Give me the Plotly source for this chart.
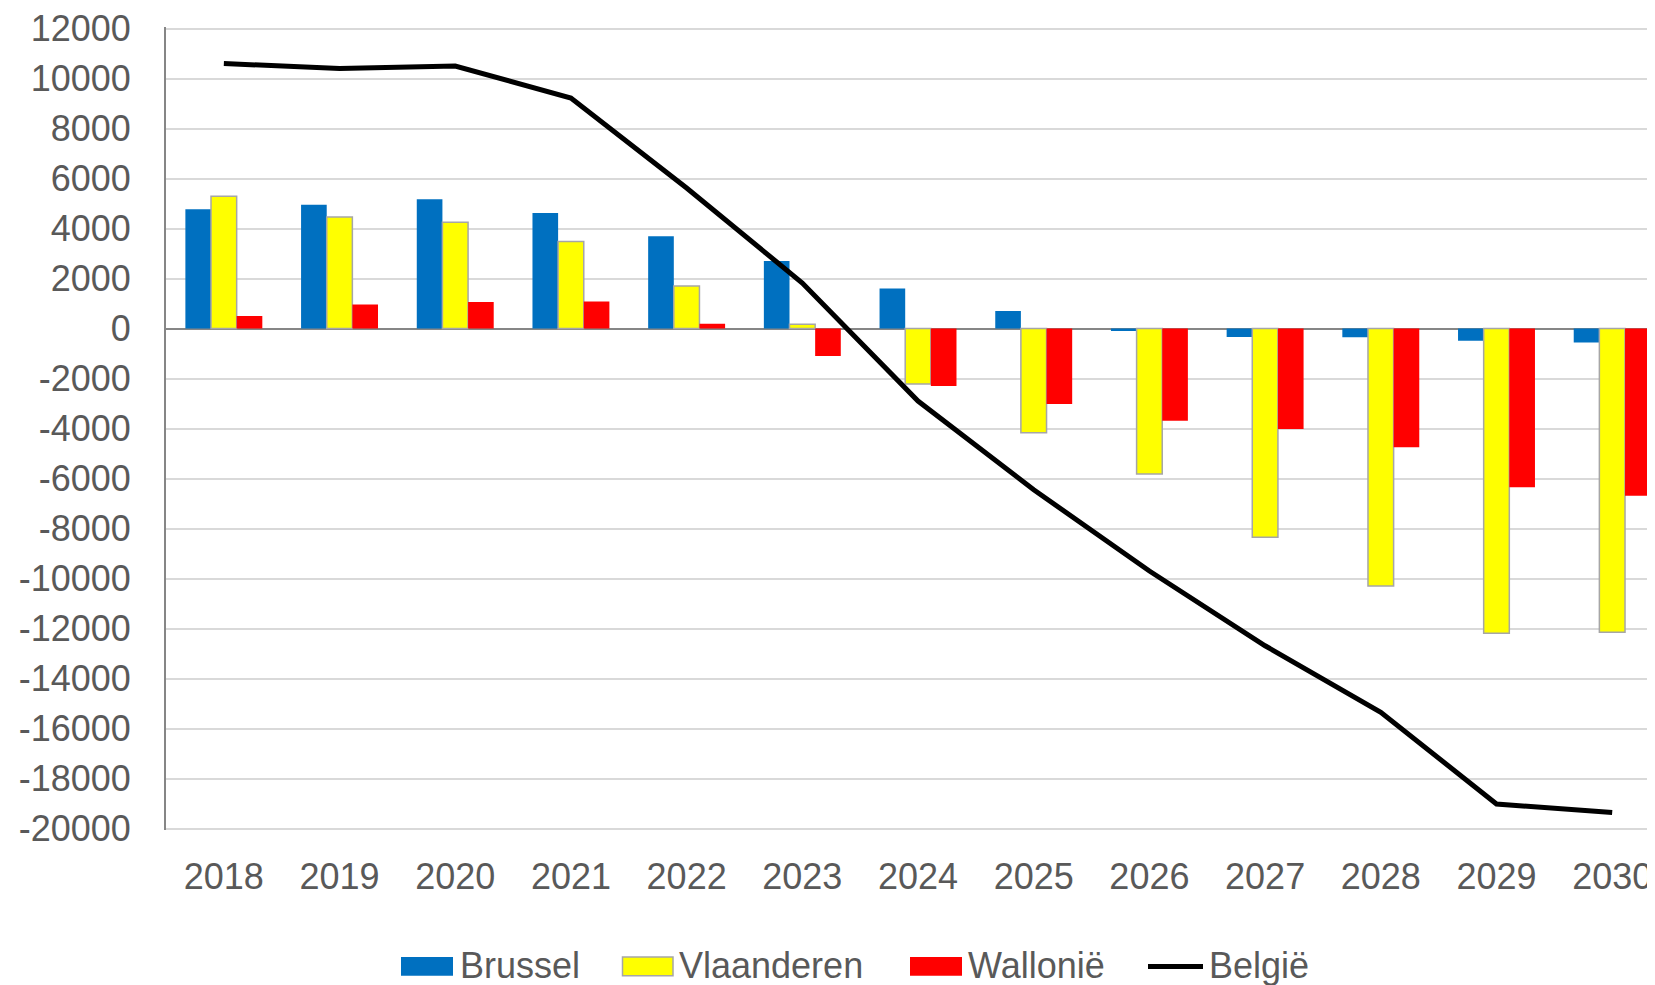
import plotly.graph_objects as go

years = ["2018", "2019", "2020", "2021", "2022", "2023", "2024",
         "2025", "2026", "2027", "2028", "2029", "2030"]
brussel = [4770, 4950, 5170, 4620, 3690, 2700, 1600, 700, -100, -340, -350, -490, -560]
vlaanderen = [5290, 4460, 4250, 3480, 1700, 170, -2220, -4170, -5820, -8350, -10300, -12190, -12150]
wallonie = [500, 960, 1060, 1080, 190, -1100, -2300, -3020, -3690, -4020, -4750, -6350, -6690]
belgie = [10600, 10400, 10500, 9220, 5620, 1820, -2900, -6450, -9700, -12690, -15350, -19020, -19360]
y_tickvals = list(range(-20000, 12001, 2000))
y_ticktext = [str(v) for v in y_tickvals]

FONT = "Liberation Sans, Arial, sans-serif"
GREY = "#595959"
BLUE, YELLOW, RED = "#0070C0", "#FFFF00", "#FF0000"

# page offset (body margin 8px) compensation
W, H = 1647, 977
ML, MR, MT, MB = 158, 0, 19, 155
PW, PH = W - ML - MR, H - MT - MB


def px(xp):  # page px -> paper x
    return (xp - 8 - ML) / PW


def py(yp):  # page px -> paper y
    return (H - MB - (yp - 8)) / PH


fig = go.Figure()
fig.add_trace(go.Bar(x=years, y=brussel, name="Brussel",
                     marker=dict(color=BLUE, line=dict(width=0))))
fig.add_trace(go.Bar(x=years, y=vlaanderen, name="Vlaanderen",
                     marker=dict(color=YELLOW, line=dict(color="#A6A6A6", width=1.5))))
fig.add_trace(go.Bar(x=years, y=wallonie, name="Wallonië",
                     marker=dict(color=RED, line=dict(width=0))))
fig.add_trace(go.Scatter(x=years, y=belgie, name="België", mode="lines",
                         line=dict(color="#000000", width=5)))

# custom legend (swatches + labels)
shapes = []
annotations = []
legend_items = [
    ("Brussel", "rect", BLUE, None, 401, 453, 459),
    ("Vlaanderen", "rect", YELLOW, "#A6A6A6", 622.5, 673, 678),
    ("Wallonië", "rect", RED, None, 910, 962, 967),
    ("België", "line", "#000000", None, 1148, 1203, 1208),
]
y0s, y1s, yc = 957, 975.7, 966.4
for name, kind, col, border, x0, x1, xt in legend_items:
    if kind == "rect":
        shapes.append(dict(type="rect", xref="paper", yref="paper",
                           x0=px(x0), x1=px(x1), y0=py(y1s), y1=py(y0s),
                           fillcolor=col,
                           line=dict(color=border if border else col,
                                     width=1.5 if border else 0)))
    else:
        shapes.append(dict(type="line", xref="paper", yref="paper",
                           x0=px(x0), x1=px(x1), y0=py(yc), y1=py(yc),
                           line=dict(color=col, width=5)))
    annotations.append(dict(text=name, xref="paper", yref="paper",
                            x=px(xt), y=py(965.4), xanchor="left", yanchor="middle",
                            showarrow=False, borderpad=0,
                            font=dict(family=FONT, size=36, color=GREY)))

fig.update_layout(
    width=W, height=H,
    margin=dict(l=ML, r=MR, t=MT, b=MB, autoexpand=False),
    paper_bgcolor="white", plot_bgcolor="white",
    barmode="group", bargap=0.335, bargroupgap=0,
    font=dict(family=FONT, size=36, color=GREY),
    showlegend=False,
    shapes=shapes, annotations=annotations,
)
fig.update_xaxes(range=[-0.5, 12.37], showgrid=False, showline=False, zeroline=False,
                 tickfont=dict(family=FONT, size=36, color=GREY), ticks="",
                 ticklabelstandoff=22, ticklabeloverflow="allow")
fig.update_yaxes(range=[-20060, 12060], tickvals=y_tickvals, ticktext=y_ticktext,
                 showgrid=True, gridcolor="#D9D9D9", gridwidth=1.5,
                 zeroline=True, zerolinecolor="#868686", zerolinewidth=2,
                 showline=True, linecolor="#868686", linewidth=2,
                 tickfont=dict(family=FONT, size=36, color=GREY), ticks="",
                 ticklabelstandoff=26, ticklabeloverflow="allow")

fig.write_html("out.html")
